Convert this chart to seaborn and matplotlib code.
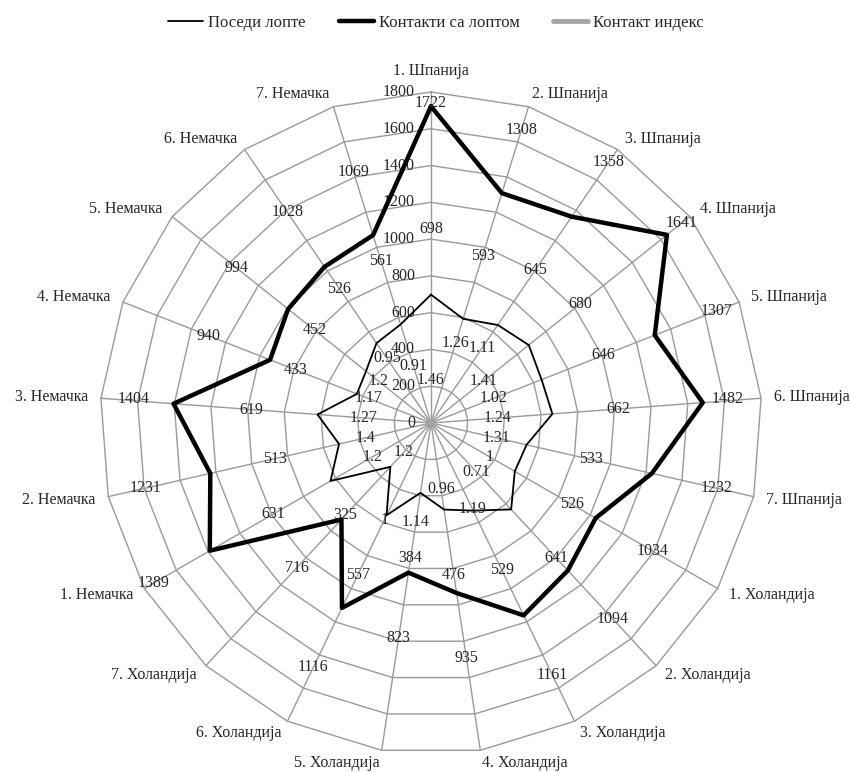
import numpy as np
import pandas as pd
import matplotlib
matplotlib.use("Agg")
import matplotlib.pyplot as plt
import seaborn as sns

# Data
categories = [
    "1. Шпанија", "2. Шпанија", "3. Шпанија", "4. Шпанија", "5. Шпанија", "6. Шпанија", "7. Шпанија",
    "1. Холандија", "2. Холандија", "3. Холандија", "4. Холандија", "5. Холандија", "6. Холандија", "7. Холандија",
    "1. Немачка", "2. Немачка", "3. Немачка", "4. Немачка", "5. Немачка", "6. Немачка", "7. Немачка",
]
posedi = [698, 593, 645, 680, 646, 662, 533,
          526, 641, 529, 476, 384, 557, 325,
          631, 513, 619, 433, 452, 526, 561]
kontakti = [1722, 1308, 1358, 1641, 1307, 1482, 1232,
            1034, 1094, 1161, 935, 823, 1116, 716,
            1389, 1231, 1404, 940, 994, 1028, 1069]
indeks = [1.46, 1.26, 1.11, 1.41, 1.02, 1.24, 1.31,
          1, 0.71, 1.19, 0.96, 1.14, 1, 1.2,
          1.2, 1.4, 1.27, 1.17, 1.2, 0.95, 0.91]
rings = list(range(0, 1801, 200))
series_names = ["Поседи лопте", "Контакти са лоптом", "Контакт индекс"]

sns.set_theme(style="white")
plt.rcParams["font.family"] = ["Liberation Serif", "DejaVu Serif"]

n = len(categories)
theta = np.arange(n) * 2 * np.pi / n
ux, uy = np.sin(theta), np.cos(theta)

fig = plt.figure(figsize=(8.52, 7.72), dpi=100)
ax = fig.add_axes([0, 0, 1, 1])
px = 1800 / 331  # data units per pixel
ax.set_xlim(-431 * px, 421 * px)
ax.set_ylim(-349 * px, 423 * px)
ax.axis("off")

grid_col = "#9a9a9a"
rmax = rings[-1]
for r in rings[1:]:
    ax.plot(np.append(r * ux, r * ux[0]), np.append(r * uy, r * uy[0]),
            color=grid_col, lw=1, zorder=1)
for i in range(n):
    ax.plot([0, rmax * ux[i]], [0, rmax * uy[i]], color=grid_col, lw=1, zorder=1)

for r in rings:
    ax.text(-16 * px, r, str(r), ha="right", va="center", fontsize=11.5, zorder=2)


def closed_frame(vals):
    v = np.asarray(vals, dtype=float)
    x, y = v * ux, v * uy
    return pd.DataFrame({"x": np.append(x, x[0]), "y": np.append(y, y[0])})


styles = [
    (posedi, "black", 1.3),
    (kontakti, "black", 3.2),
    (indeks, "#a6a6a6", 3.5),
]
for (vals, col, lw), name in zip(styles, series_names):
    sns.lineplot(data=closed_frame(vals), x="x", y="y", sort=False, estimator=None,
                 color=col, lw=lw, label=name, ax=ax, zorder=3)

handles, labels = ax.get_legend_handles_labels()
ax.get_legend().remove()
fig.legend(handles, labels, loc="upper center", bbox_to_anchor=(0.512, 1.0), ncol=3,
           frameon=False, fontsize=12, handlelength=2.1, handletextpad=0.3,
           columnspacing=2.0)

# category labels around the outer ring
lab_r = rmax + 13 * px
for i, cat in enumerate(categories):
    if ux[i] > 0.05:
        ha = "left"
    elif ux[i] < -0.05:
        ha = "right"
    else:
        ha = "center"
    va = "bottom" if uy[i] > 0.99 else "center"
    ax.text(lab_r * ux[i], lab_r * uy[i], cat, ha=ha, va=va, fontsize=11.5)


# data labels, pushed outward from the point and kept inside the plot area
def put_label(i, r, text):
    r = min(r, 320 * px)
    x = np.clip(r * ux[i], -297 * px, 297 * px)
    ax.text(x, r * uy[i], text, ha="center", va="center", fontsize=11.5, zorder=4)


for i in range(n):
    put_label(i, posedi[i] + 66 * px, str(posedi[i]))
    put_label(i, kontakti[i] + 66 * px, str(kontakti[i]))

# contact index labels sit near the centre; some were nudged by hand in the original
index_r_px = {0: 43, 1: 83, 2: 90, 9: 95, 11: 100, 12: 107, 13: 40, 19: 78, 20: 60}
for i in range(n):
    r = indeks[i] + index_r_px.get(i, 67) * px
    put_label(i, r, f"{indeks[i]:g}")

fig.savefig("out.png", dpi=100)
